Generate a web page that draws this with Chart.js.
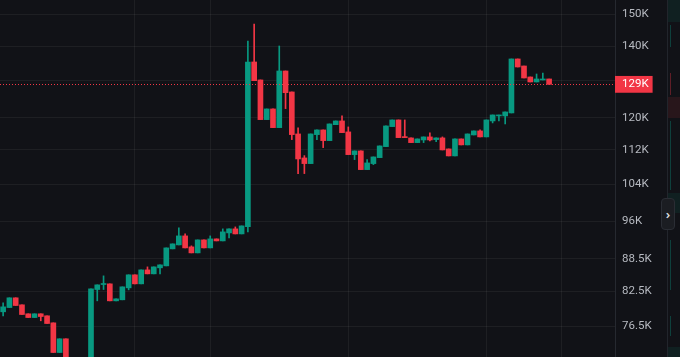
<!DOCTYPE html>
<html>
<head>
<meta charset="utf-8">
<script src="https://cdn.jsdelivr.net/npm/chart.js@4.4.1/dist/chart.umd.min.js"></script>
<style>
  html, body { margin: 0; padding: 0; background: #111217; overflow: hidden; }
  #wrap { position: relative; width: 680px; height: 357px; background: #111217; }
  canvas { display: block; }
  .strip { position: absolute; left: 667px; top: 0; width: 13px; height: 357px; border-left: 1px solid #22252c; background: #111217; }
  .blk { position: absolute; left: 0; width: 13px; }
  .ln { position: absolute; left: 2px; width: 1px; }
  .btn { position: absolute; left: 661px; top: 198px; width: 14px; height: 32px; border-radius: 4px;
         background: #1b1d22; border: 1px solid #2a2d34; color: #d6d8de; font: 600 13px "Noto Sans", sans-serif;
         display: flex; align-items: center; justify-content: center; box-sizing: border-box; }
</style>
</head>
<body>
<div id="wrap">
  <canvas id="c" width="680" height="357"></canvas>
  <div class="strip">
    <div class="blk" style="top:0;height:22px;background:rgba(8,153,129,0.10)"></div>
    <div class="blk" style="top:97px;height:21px;background:rgba(242,54,69,0.10)"></div>
    <div class="blk" style="top:193px;height:20px;background:rgba(8,153,129,0.10)"></div>
    <div class="blk" style="top:347px;height:10px;background:rgba(8,153,129,0.10)"></div>
    <div class="ln" style="top:25px;height:22px;background:rgba(8,153,129,0.35)"></div>
    <div class="ln" style="top:73px;height:22px;background:rgba(242,54,69,0.35)"></div>
    <div class="ln" style="top:121px;height:69px;background:rgba(8,153,129,0.35)"></div>
    <div class="ln" style="top:240px;height:50px;background:rgba(8,153,129,0.35)"></div>
    <div class="ln" style="top:316px;height:20px;background:rgba(8,153,129,0.35)"></div>
  </div>
  <div class="btn">›</div>
</div>
<script>
// ---- data (prices in thousands) ----
const opens = [78.94,79.67,81.36,80.14,78.60,77.97,78.60,78.26,77.08,72.30,74.47,70.4,69.0,70.5,70.0,82.83,83.73,83.85,80.83,81.01,83.13,85.50,83.85,86.42,85.68,86.80,87.17,90.43,91.21,93.00,90.82,89.65,92.20,90.62,92.40,92.00,93.60,94.42,93.40,94.89,135.39,130.23,119.54,122.33,117.49,132.78,126.90,115.90,110.05,108.71,115.73,116.91,114.24,118.25,119.20,116.41,110.84,111.73,107.31,108.71,110.12,112.77,117.75,119.46,115.23,114.91,113.75,114.41,115.16,114.49,114.91,112.21,110.53,114.66,113.19,115.65,116.66,115.16,119.20,120.50,120.50,121.28,136.27,134.22,131.07,129.67,130.23,130.51];
const highs = [80.48,81.36,81.36,80.14,78.60,78.60,78.60,78.26,77.08,74.47,74.47,70.9,71.0,71.2,82.95,83.67,85.31,83.85,81.18,83.31,85.50,85.50,86.42,86.98,86.98,87.36,90.62,91.41,94.62,93.40,91.02,92.20,92.20,93.00,92.40,94.42,94.42,94.82,95.03,141.66,146.95,130.23,122.33,122.33,140.14,132.78,126.90,117.41,110.60,115.90,116.91,116.91,118.43,119.20,120.50,117.67,111.73,111.73,109.65,110.29,112.94,117.92,119.46,119.46,119.46,114.91,114.66,115.16,116.15,114.91,115.16,112.21,114.66,114.66,115.90,116.66,116.91,119.46,120.75,120.75,121.54,136.27,136.27,134.22,131.07,131.92,132.21,130.51];
const lows = [78.26,79.67,80.02,78.48,77.97,77.97,77.42,76.97,72.30,72.30,69.8,68.5,68.3,69.4,69.6,80.83,82.83,80.83,80.83,81.01,82.77,83.85,83.85,85.68,85.68,85.68,87.17,90.43,91.21,90.62,89.65,89.65,90.62,90.62,92.00,92.00,92.60,93.40,93.40,93.81,130.03,119.54,119.54,117.49,117.49,122.41,114.49,106.39,106.39,108.71,114.49,112.53,114.24,118.25,116.23,110.84,109.65,107.31,107.31,108.47,110.12,112.77,117.75,114.98,114.98,113.75,113.75,113.75,114.17,113.99,111.97,110.53,110.53,113.19,113.19,115.65,115.16,115.16,118.69,119.20,118.43,121.28,133.93,130.79,129.67,129.67,130.23,129.00];
const closes = [79.79,81.36,80.02,78.48,77.97,78.60,78.14,76.97,72.30,74.47,70.4,69.0,70.5,70.0,82.95,83.67,83.85,80.83,81.18,83.31,85.50,83.85,86.42,85.68,86.98,87.36,90.62,91.41,93.00,90.62,89.65,92.20,90.62,92.40,92.00,93.81,94.42,93.40,95.03,135.39,130.03,119.54,122.33,117.49,132.78,126.71,115.73,109.81,108.71,115.90,116.91,114.24,118.43,119.20,116.23,110.84,111.73,107.31,108.87,110.29,112.94,117.92,119.46,114.98,114.98,113.75,114.66,115.16,114.41,114.91,111.97,110.53,114.66,113.19,115.90,116.66,115.16,119.46,120.75,120.75,121.54,136.27,133.93,130.79,129.67,130.51,130.51,129.00];
const categories = closes.map((_, i) => i);           // candle slots
const yTickValues = [150, 140, 130, 120, 112, 104, 96, 88.5, 82.5, 76.5]; // axis ticks (K)
const hiddenTickLabels = [130];                          // covered by the price label
const xGridSlots = [21, 33, 55, 77, 89];                 // vertical grid positions (slot index)
const lastPrice = closes[closes.length - 1];

const UP = '#089981', DOWN = '#f23645';
const GRID = 'rgba(255,255,255,0.055)';
const colors = categories.map(i => closes[i] >= opens[i] ? UP : DOWN);

const bodies = categories.map(i => ({ x: i, y: [Math.min(opens[i], closes[i]), Math.max(opens[i], closes[i])] }));
const wicks = categories.map(i => ({ x: i, y: [lows[i], highs[i]] }));

const priceLine = {
  id: 'priceLine',
  afterDatasetsDraw(chart) {
    const { ctx, chartArea, scales: { y } } = chart;
    const py = Math.round(y.getPixelForValue(lastPrice)) + 0.5;
    ctx.save();
    ctx.strokeStyle = DOWN;
    ctx.lineWidth = 1;
    ctx.setLineDash([1, 2]);
    ctx.beginPath();
    ctx.moveTo(chartArea.left, py);
    ctx.lineTo(chartArea.right - 2, py);
    ctx.stroke();
    ctx.restore();
  }
};

new Chart(document.getElementById('c'), {
  type: 'bar',
  data: {
    datasets: [
      { data: bodies, backgroundColor: colors, barThickness: 5, minBarLength: 1, grouped: false, order: 0, borderWidth: 0 },
      { data: wicks, backgroundColor: colors, barThickness: 1, minBarLength: 1, grouped: false, order: 1, borderWidth: 0 }
    ]
  },
  options: {
    responsive: false,
    animation: false,
    devicePixelRatio: 1,
    layout: { padding: 0 },
    plugins: { legend: { display: false }, tooltip: { enabled: false } },
    scales: {
      x: {
        type: 'linear',
        min: -0.5,
        max: 97.5,
        bounds: 'data',
        offset: false,
        afterBuildTicks: (axis) => { axis.ticks = xGridSlots.map(v => ({ value: v })); },
        afterFit: (axis) => { axis.paddingLeft = 0; axis.paddingRight = 0; axis.height = 0; },
        ticks: { display: false },
        grid: { color: GRID, drawTicks: false, offset: false },
        border: { display: false }
      },
      y: {
        type: 'logarithmic',
        position: 'right',
        min: 71.6,
        max: 154.77,
        bounds: 'data',
        afterBuildTicks: (axis) => {
          axis.ticks = yTickValues.concat([lastPrice]).sort((a, b) => b - a).map(v => ({ value: v }));
        },
        afterFit: (axis) => { axis.width = 65; axis.paddingTop = 0; axis.paddingBottom = 0; },
        grid: {
          drawTicks: false,
          color: (ctx) => (ctx.tick && ctx.tick.value === lastPrice) ? 'rgba(0,0,0,0)' : GRID
        },
        border: { display: true, color: '#262930' },
        ticks: {
          autoSkip: false,
          padding: 7,
          font: { family: 'Roboto', size: 11.5 },
          color: (ctx) => ctx.tick.value === lastPrice ? '#ffffff' : '#b7bac1',
          showLabelBackdrop: (ctx) => ctx.tick.value === lastPrice,
          backdropColor: DOWN,
          backdropPadding: { top: 1.5, bottom: 1.5, left: 8, right: 4 },
          callback: (v) => hiddenTickLabels.includes(v) ? '' : v + 'K'
        }
      }
    }
  },
  plugins: [priceLine]
});
</script>
</body>
</html>
